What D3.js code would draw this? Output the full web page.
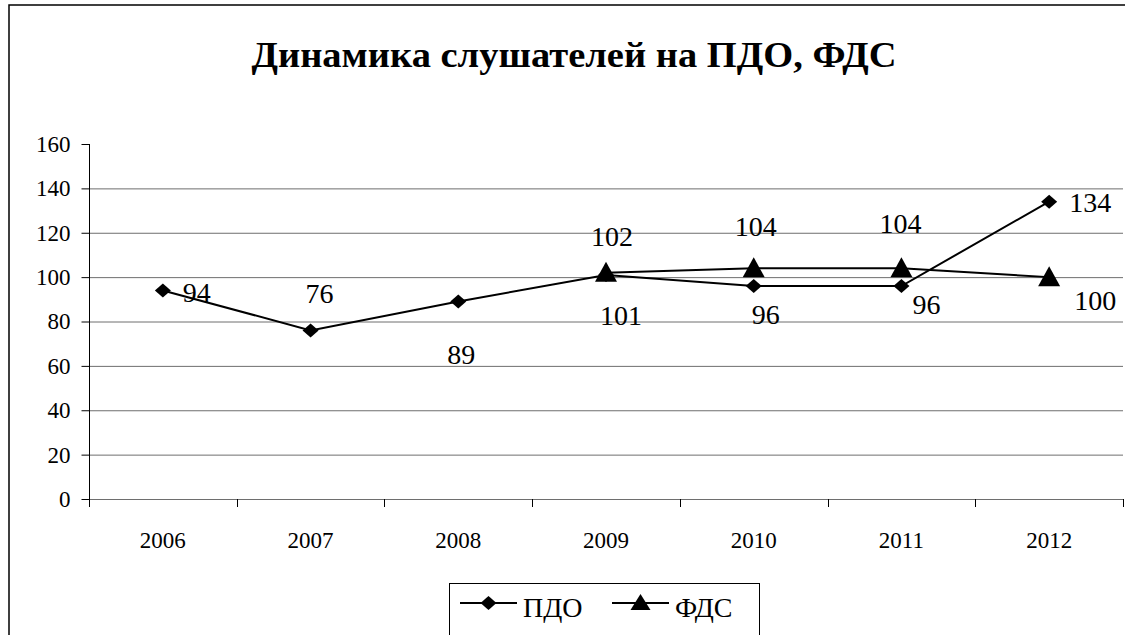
<!DOCTYPE html>
<html>
<head>
<meta charset="utf-8">
<script src="https://cdn.jsdelivr.net/npm/d3@7"></script>
<style>
  body { margin: 0; background: #fff; }
  #fig text { font-family: "Liberation Serif", "Times New Roman", serif !important; }
</style>
</head>
<body>
<svg id="fig" width="1125" height="635"></svg>
<script>
// chart data
const years = ["2006", "2007", "2008", "2009", "2010", "2011", "2012"];
const pdo = [94, 76, 89, 101, 96, 96, 134];
const fds = [null, null, null, 102, 104, 104, 100];
const yTicks = [0, 20, 40, 60, 80, 100, 120, 140, 160];
const seriesNames = ["ПДО", "ФДС"];
const title = "Динамика слушателей на ПДО, ФДС";

// label placement (Excel labels were dragged by hand), [dx, dy] from the point
const pdoLabelShift = [[34, 2], [9, -37], [3, 53], [15, 40], [12, 28], [25, 18], [41, 1]];
const fdsLabelShift = [null, null, null, [6, -36], [2, -42], [-1, -45], [46, 23]];

const serifFont = "'Liberation Serif', 'Times New Roman', serif";
const svg = d3.select("#fig");
const plotLeft = 89, plotRight = 1123, plotTop = 144, plotBottom = 499;

function txt(sel, size) {
    return sel.style("font-family", serifFont, "important")
        .style("font-size", size + "px")
        .attr("fill", "#000");
}

// outer frame
svg.append("rect")
    .attr("x", 9).attr("y", 5)
    .attr("width", 1200).attr("height", 700)
    .attr("fill", "none").attr("stroke", "#000").attr("stroke-width", 1.5);

txt(svg.append("text"), 36)
    .text(title)
    .attr("x", 574).attr("y", 67)
    .attr("text-anchor", "middle")
    .attr("textLength", 645)
    .attr("lengthAdjust", "spacingAndGlyphs")
    .style("font-weight", "bold");

let x = d3.scaleBand().domain(years).range([plotLeft, plotRight]);
let y = d3.scaleLinear().domain([0, 160]).range([plotBottom, plotTop]);

// gridlines (none at the top value)
svg.selectAll(".grid")
    .data(yTicks.filter(d => d < 160))
    .enter().append("line")
    .attr("class", "grid")
    .attr("x1", plotLeft).attr("x2", plotRight)
    .attr("y1", d => y(d) + 0.5).attr("y2", d => y(d) + 0.5)
    .attr("stroke", "#6e6e6e").attr("stroke-width", 1);

// y axis
let yAxis = d3.axisLeft(y).tickValues(yTicks).tickSize(8).tickPadding(11);
let gy = svg.append("g").attr("transform", "translate(" + (plotLeft + 0.5) + ",0)").call(yAxis);
gy.attr("font-family", null).attr("font-size", null);
gy.select(".domain").attr("d", "M0," + plotTop + "V" + (plotBottom + 8));
txt(gy.selectAll("text"), 23);
gy.selectAll("line").attr("stroke", "#000");

// x axis
let xTickPos = years.map(d => x(d)).concat([plotRight]);
svg.selectAll(".xtick")
    .data(xTickPos)
    .enter().append("line")
    .attr("x1", d => Math.round(d) + 0.5).attr("x2", d => Math.round(d) + 0.5)
    .attr("y1", plotBottom).attr("y2", plotBottom + 8)
    .attr("stroke", "#000");
txt(svg.selectAll(".xlab")
    .data(years)
    .enter().append("text"), 23)
    .text(d => d)
    .attr("x", d => x(d) + x.bandwidth() / 2)
    .attr("y", 548)
    .attr("text-anchor", "middle");

let cx = d => x(d) + x.bandwidth() / 2;

function drawSeries(vals, shifts, marker) {
    let pts = years.map((yr, i) => ({yr: yr, v: vals[i], s: shifts[i]})).filter(d => d.v != null);
    let line = d3.line().x(d => cx(d.yr)).y(d => y(d.v));
    svg.append("path")
        .datum(pts)
        .attr("d", line)
        .attr("fill", "none").attr("stroke", "#000").attr("stroke-width", 2);
    svg.selectAll(null)
        .data(pts)
        .enter().append("path")
        .attr("d", marker)
        .attr("transform", d => "translate(" + cx(d.yr) + "," + y(d.v) + ")")
        .attr("fill", "#000");
    txt(svg.selectAll(null)
        .data(pts)
        .enter().append("text"), 28)
        .text(d => d.v)
        .attr("x", d => cx(d.yr) + d.s[0])
        .attr("y", d => y(d.v) + d.s[1])
        .attr("dy", "0.35em")
        .attr("text-anchor", "middle");
}

const diamond = "M0,-7L8,0L0,7L-8,0Z";
const triangle = "M0,-11L11,9L-11,9Z";

drawSeries(pdo, pdoLabelShift, diamond);
drawSeries(fds, fdsLabelShift, triangle);

// legend
let lg = svg.append("g");
lg.append("rect")
    .attr("x", 449.5).attr("y", 583.5)
    .attr("width", 310).attr("height", 80)
    .attr("fill", "#fff").attr("stroke", "#000").attr("stroke-width", 1);
let items = [{name: seriesNames[0], m: diamond, x0: 460}, {name: seriesNames[1], m: "M0,-9L10,7L-10,7Z", x0: 612}];
items.forEach(function (it) {
    lg.append("line")
        .attr("x1", it.x0).attr("x2", it.x0 + 57)
        .attr("y1", 603).attr("y2", 603)
        .attr("stroke", "#000").attr("stroke-width", 2);
    lg.append("path")
        .attr("d", it.m)
        .attr("transform", "translate(" + (it.x0 + 28.5) + ",603)")
        .attr("fill", "#000");
    txt(lg.append("text"), 28)
        .text(it.name)
        .attr("x", it.x0 + 63)
        .attr("y", 617);
});
</script>
</body>
</html>
